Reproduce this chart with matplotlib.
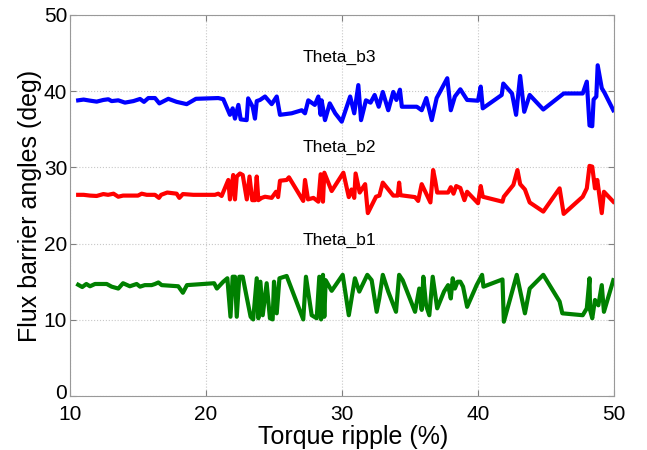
import matplotlib
matplotlib.use("Agg")
import matplotlib.pyplot as plt
from matplotlib.transforms import ScaledTranslation

plt.rcParams['font.family'] = ['Liberation Sans', 'DejaVu Sans']

# torque ripple (%) vs. flux barrier angle (deg) for the three barriers
b3_x = [10.6, 11.0, 11.47, 11.96, 12.45, 12.82, 13.06, 13.55, 14.04, 14.66, 15.15, 15.44,
        15.76, 16.25, 16.57, 17.23, 17.84, 18.58, 19.26, 20.9, 21.27, 21.76, 21.96, 22.13,
        22.38, 22.55, 22.99, 23.1, 23.43, 23.6, 23.73, 23.97, 24.34, 24.83, 25.2, 25.44,
        26.3, 27.04, 27.28, 27.52, 28.0, 28.26, 28.43, 28.5, 28.75, 29.1, 29.5, 29.98,
        30.6, 30.9, 31.2, 31.4, 31.76, 32.1, 32.4, 32.7, 33.0, 33.4, 33.77, 34.0, 34.26,
        34.4, 35.5, 35.86, 36.2, 36.6, 36.96, 37.74, 38.0, 38.3, 38.7, 39.2, 40.0, 40.2,
        40.35, 41.74, 41.86, 42.5, 42.8, 43.1, 43.4, 43.8, 44.8, 46.3, 47.7, 48.0, 48.2,
        48.4, 48.5, 48.7, 48.8, 49.1, 49.3, 49.95]
b3_y = [38.8, 38.9, 38.76, 38.63, 38.85, 38.94, 38.7, 38.8, 38.5, 38.7, 38.98, 38.6,
        39.1, 39.1, 38.4, 39.0, 38.6, 38.3, 39.0, 39.1, 38.95, 36.9, 37.75, 36.4,
        38.2, 36.3, 36.2, 39.06, 37.96, 36.4, 38.7, 38.85, 39.3, 38.3, 39.3, 36.9,
        37.1, 37.5, 37.1, 38.8, 38.2, 39.3, 36.9, 38.8, 36.2, 38.4, 37.1, 36.0,
        39.3, 37.1, 40.8, 36.2, 38.8, 38.5, 39.5, 37.96, 39.9, 37.5, 39.9, 38.85, 40.2,
        37.96, 37.96, 37.5, 39.1, 36.2, 39.1, 41.7, 37.5, 39.3, 40.25, 38.85, 38.75, 40.6,
        37.75, 39.5, 41.0, 39.7, 36.9, 42.0, 37.3, 39.5, 37.6, 39.7, 39.7, 41.25, 35.5,
        35.4, 38.9, 39.3, 43.4, 40.4, 39.8, 37.5]

b2_x = [10.6, 11.0, 11.47, 11.96, 12.45, 12.8, 13.2, 13.55, 13.9, 14.66, 15.0, 15.27,
        15.64, 16.25, 16.54, 16.7, 17.15, 17.84, 18.04, 18.3, 19.07, 20.66, 20.9, 21.15,
        21.64, 21.76, 22.0, 22.13, 22.26, 22.5, 22.7, 23.0, 23.2, 23.4, 23.6, 23.73,
        23.85, 24.1, 24.34, 24.83, 25.15, 25.3, 25.44, 25.93, 26.1, 27.15, 27.28, 27.5,
        27.9, 28.26, 28.43, 28.6, 28.7, 29.24, 30.1, 30.5, 30.7, 30.9, 31.0, 31.3, 31.7,
        31.9, 32.5, 32.75, 33.0, 33.77, 34.1, 34.2, 34.3, 35.37, 35.6, 35.86, 36.5, 36.7,
        36.85, 37.0, 37.8, 38.0, 38.2, 38.4, 38.7, 39.0, 39.2, 40.0, 40.2, 40.35, 41.8,
        41.9, 42.6, 42.9, 43.1, 43.45, 43.8, 44.8, 46.0, 46.3, 47.7, 48.0, 48.2, 48.4,
        48.6, 48.77, 49.1, 49.26, 49.95]
b2_y = [26.4, 26.4, 26.3, 26.25, 26.5, 26.4, 26.55, 26.15, 26.3, 26.3, 26.3, 26.55,
        26.4, 26.4, 26.0, 26.4, 26.7, 26.55, 26.0, 26.5, 26.4, 26.4, 26.55, 26.25,
        28.35, 25.8, 29.0, 25.8, 28.8, 29.2, 29.0, 25.8, 28.8, 25.7, 25.7, 28.8,
        25.7, 26.0, 26.15, 26.0, 26.8, 26.1, 28.25, 28.35, 28.7, 25.6, 28.35, 25.8,
        26.0, 25.5, 29.1, 25.5, 29.3, 26.9, 29.3, 26.1, 27.1, 26.0, 29.2, 26.7, 27.8,
        24.0, 26.15, 26.3, 28.0, 26.3, 26.3, 28.0, 26.35, 26.1, 25.6, 27.8, 25.4, 29.65,
        28.3, 26.7, 26.7, 27.4, 26.55, 27.55, 27.3, 25.7, 26.8, 25.3, 27.55, 26.15, 25.5,
        26.15, 27.7, 29.65, 27.8, 27.1, 25.4, 24.2, 27.25, 23.9, 26.15, 27.25, 30.2, 30.1,
        27.25, 28.35, 24.0, 26.8, 25.5]

b1_x = [10.6, 10.9, 11.2, 11.47, 11.84, 12.7, 13.06, 13.55, 13.9, 14.4, 14.9, 15.15,
        15.5, 16.0, 16.25, 16.5, 16.74, 17.96, 18.3, 18.6, 19.8, 20.6, 20.8, 21.27,
        21.57, 21.8, 21.96, 22.13, 22.26, 22.45, 22.7, 22.99, 23.28, 23.47, 23.73, 23.85,
        24.0, 24.17, 24.46, 24.7, 24.9, 25.0, 25.2, 25.4, 25.93, 27.15, 27.35, 27.77,
        28.14, 28.33, 28.46, 28.6, 28.7, 28.8, 29.24, 30.05, 30.5, 30.95, 31.27, 31.86,
        32.18, 32.55, 32.74, 33.0, 33.4, 33.97, 34.2, 34.46, 35.37, 35.68, 35.86, 35.98,
        36.18, 36.42, 36.67, 37.0, 37.5, 37.8, 38.0, 38.14, 38.3, 38.5, 38.7, 38.9, 39.2,
        39.9, 40.3, 40.4, 41.8, 41.9, 42.85, 43.45, 43.8, 44.8, 46.0, 46.2, 47.7, 48.0,
        48.2, 48.24, 48.4, 48.6, 48.85, 49.1, 49.26, 49.95]
b1_y = [14.6, 14.3, 14.7, 14.4, 14.7, 14.7, 14.35, 14.1, 14.8, 14.4, 14.7, 14.35,
        14.55, 14.55, 14.7, 14.9, 14.55, 14.4, 13.55, 14.55, 14.7, 14.8, 14.1, 15.0,
        15.45, 10.4, 15.65, 15.65, 10.4, 15.65, 15.65, 13.0, 10.4, 10.05, 15.45, 10.2,
        15.0, 10.6, 14.8, 10.2, 10.05, 15.0, 10.85, 15.45, 15.75, 10.05, 15.65, 10.6,
        10.2, 15.65, 10.05, 15.9, 10.4, 15.2, 13.8, 15.9, 10.6, 15.45, 13.7, 15.9,
        15.2, 11.05, 12.8, 15.9, 13.7, 11.05, 15.9, 15.2, 11.05, 14.1, 11.3, 15.65,
        11.9, 10.6, 15.65, 11.5, 13.7, 14.55, 12.8, 15.45, 14.1, 15.0, 15.0, 14.35, 11.7,
        14.55, 15.9, 14.35, 15.3, 9.75, 15.9, 10.85, 14.1, 15.9, 12.4, 10.85, 10.6, 11.5,
        15.45, 11.3, 10.2, 12.6, 11.9, 14.55, 11.05, 15.2]

curve_names = ['Theta_b3', 'Theta_b2', 'Theta_b1']
name_pos = [(29.8, 44.4), (29.8, 32.6), (29.8, 20.4)]

fig = plt.figure(figsize=(6.47, 4.5), dpi=100)
ax = fig.add_axes([0.1082, 0.12, 0.8408, 0.8467])

ax.plot(b3_x, b3_y, color='#0000ff', lw=3.0)
ax.plot(b2_x, b2_y, color='#ff0000', lw=3.0)
ax.plot(b1_x, b1_y, color='#008000', lw=3.0)

for name, (tx, ty) in zip(curve_names, name_pos):
    ax.text(tx, ty, name, fontsize=12.5, ha='center', va='center')

ax.set_xlim(10, 50)
ax.set_ylim(0, 50)
ax.set_xticks([10, 20, 30, 40, 50])
ax.set_yticks([0, 10, 20, 30, 40, 50])
ax.grid(True, linestyle=':', color='#c8c8c8', linewidth=0.8)
ax.tick_params(direction='in', top=True, right=True, length=4, width=0.8,
               color='#808080', labelsize=15, pad=2)
ax.tick_params(axis='x', pad=6.5)
for sp in ax.spines.values():
    sp.set_color('#999999')
    sp.set_linewidth(0.8)

# nudge the y "0" up a little so it clears the x "10" in the corner
fig.canvas.draw()
zero = ax.yaxis.get_major_ticks()[0].label1
zero.set_transform(zero.get_transform() + ScaledTranslation(0, 3 / 72, fig.dpi_scale_trans))

ax.set_xlabel('Torque ripple (%)', fontsize=18)
ax.xaxis.set_label_coords(0.52, -0.075)
ax.set_ylabel('Flux barrier angles (deg)', fontsize=18, labelpad=1)

fig.savefig('out.png', dpi=100)
